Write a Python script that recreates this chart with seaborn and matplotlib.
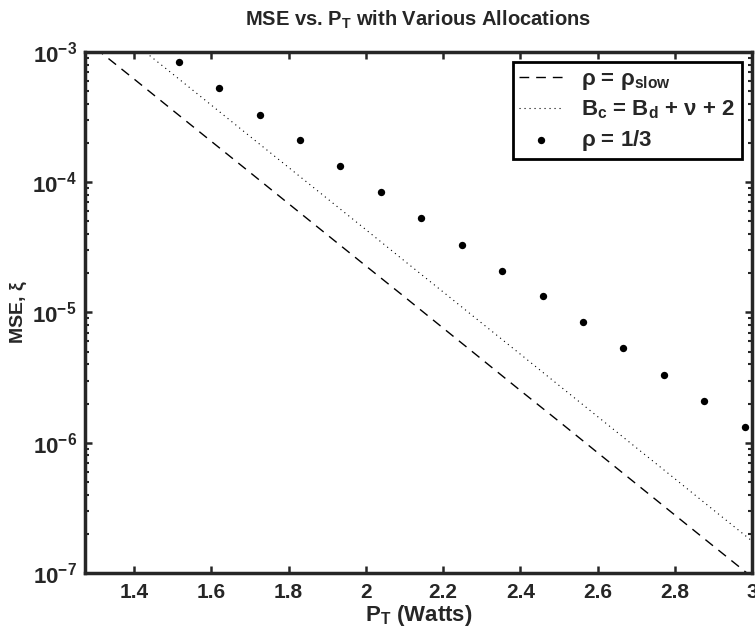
import matplotlib
matplotlib.use("Agg")
import matplotlib.pyplot as plt
import seaborn as sns
import numpy as np
import pandas as pd
from matplotlib.ticker import LogLocator, NullFormatter

# ---- data ----
line_x = [1.3, 1.4, 1.5, 1.6, 1.7, 1.8, 1.9, 2.0, 2.1, 2.2, 2.3, 2.4, 2.5,
          2.6, 2.7, 2.8, 2.9, 3.0]
slow_mse = [1.07e-3, 6.2e-4, 3.57e-4, 2.06e-4, 1.19e-4, 6.85e-5, 3.95e-5,
            2.28e-5, 1.32e-5, 7.6e-6, 4.38e-6, 2.52e-6, 1.46e-6, 8.4e-7,
            4.84e-7, 2.79e-7, 1.61e-7, 9.3e-8]
bc_x = [1.4, 1.5, 1.6, 1.7, 1.8, 1.9, 2.0, 2.1, 2.2, 2.3, 2.4, 2.5, 2.6,
        2.7, 2.8, 2.9, 3.0]
bc_mse = [1.17e-3, 6.78e-4, 3.91e-4, 2.25e-4, 1.30e-4, 7.50e-5, 4.33e-5,
          2.49e-5, 1.44e-5, 8.30e-6, 4.79e-6, 2.76e-6, 1.59e-6, 9.18e-7,
          5.30e-7, 3.05e-7, 1.76e-7]
third_x = [1.516, 1.621, 1.725, 1.830, 1.934, 2.039, 2.144, 2.248, 2.353,
           2.458, 2.562, 2.667, 2.771, 2.876, 2.981]
third_mse = [8.4e-4, 5.3e-4, 3.3e-4, 2.1e-4, 1.33e-4, 8.4e-5, 5.3e-5, 3.3e-5,
             2.1e-5, 1.33e-5, 8.4e-6, 5.3e-6, 3.3e-6, 2.1e-6, 1.33e-6]
x_ticks = [1.4, 1.6, 1.8, 2.0, 2.2, 2.4, 2.6, 2.8, 3.0]
x_ticklabels = ["1.4", "1.6", "1.8", "2", "2.2", "2.4", "2.6", "2.8", "3"]

sns.set_style("ticks")
FONT = "Liberation Sans"
plt.rcParams["font.family"] = [FONT, "DejaVu Sans"]
plt.rcParams["font.weight"] = "bold"
plt.rcParams["mathtext.fontset"] = "custom"
for k in ("rm", "it", "bf", "sf"):
    plt.rcParams["mathtext." + k] = FONT + ":bold"
plt.rcParams["mathtext.default"] = "rm"

fig = plt.figure(figsize=(7.55, 6.3), dpi=100)
ax = fig.add_axes([0.1126, 0.0905, 0.8834, 0.827])

df_slow = pd.DataFrame({"x": line_x, "y": slow_mse})
df_bc = pd.DataFrame({"x": bc_x, "y": bc_mse})
df_third = pd.DataFrame({"x": third_x, "y": third_mse})

sns.lineplot(data=df_slow, x="x", y="y", ax=ax, color="black", lw=1.0,
             label=r"$\rho$ = $\rho_{slow}$")
ax.lines[-1].set_linestyle((0, (7, 5)))
sns.lineplot(data=df_bc, x="x", y="y", ax=ax, color="black", lw=0.8,
             label=r"B$_c$ = B$_d$ + $\nu$ + 2")
ax.lines[-1].set_linestyle((0, (1, 3.5)))
sns.scatterplot(data=df_third, x="x", y="y", ax=ax, color="black", s=28,
                edgecolor="black", linewidth=0, label=r"$\rho$ = 1/3")

ax.set_yscale("log")
ax.set_xlim(1.273, 3.0)
ax.set_ylim(1e-7, 1e-3)
ax.set_xticks(x_ticks)
ax.set_xticklabels(x_ticklabels)
ax.yaxis.set_major_locator(LogLocator(base=10, numticks=10))
ax.yaxis.set_minor_locator(LogLocator(base=10, subs=np.arange(2, 10), numticks=100))
ax.yaxis.set_minor_formatter(NullFormatter())

ax.tick_params(axis="both", which="major", direction="in", length=5, width=1.8,
               top=True, right=True, pad=7)
ax.tick_params(axis="x", which="major", labelsize=15)
ax.tick_params(axis="y", which="major", labelsize=16, pad=6)
ax.tick_params(axis="y", which="minor", direction="in", length=3, width=1.5,
               right=True, left=True)
for lab in ax.get_xticklabels() + ax.get_yticklabels():
    lab.set_fontweight("bold")
for sp in ax.spines.values():
    sp.set_linewidth(2.5)
    sp.set_visible(True)

ax.set_xlabel(r"P$_T$ (Watts)", fontsize=16, fontweight="bold", labelpad=1)
ax.set_ylabel(r"MSE, $\xi$", fontsize=14, fontweight="bold", labelpad=2)
ax.set_title(r"MSE vs. P$_T$ with Various Allocations", fontsize=14.5,
             fontweight="bold", pad=19)

leg = ax.legend(loc="upper right", fontsize=16, frameon=True, fancybox=False,
                borderaxespad=0.45, handlelength=2.0, handletextpad=0.8,
                labelspacing=0.3, borderpad=0.3, framealpha=1)
leg.get_frame().set_edgecolor("black")
leg.get_frame().set_linewidth(2.0)
for t in leg.get_texts():
    t.set_fontweight("bold")

fig.savefig("out.png", dpi=100)
